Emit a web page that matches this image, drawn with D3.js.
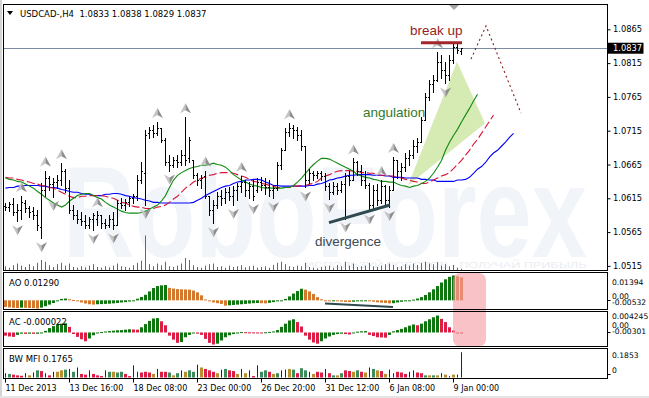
<!DOCTYPE html>
<html><head><meta charset="utf-8">
<script src="https://cdn.jsdelivr.net/npm/d3@7/dist/d3.min.js"></script>
<style>
html,body{margin:0;padding:0;background:#fff;}
svg{display:block;}
</style></head><body>
<svg id="chart" width="649" height="398"></svg>
<script>
// ---------------- DATA ----------------
const symbolTitle = "USDCAD-,H4  1.0833 1.0838 1.0829 1.0837";
const lastPrice = 1.0837;
const dateLabels = ["11 Dec 2013","13 Dec 16:00","18 Dec 08:00","23 Dec 00:00","26 Dec 20:00","31 Dec 12:00","6 Jan 08:00","9 Jan 00:00"];
const dateTickBars = [0,16,32,48,64,80,96,112];
const priceTicks = [1.0865,1.0815,1.0765,1.0715,1.0665,1.0615,1.0565,1.0515];

const openP = [1.0603,1.0602,1.0606,1.0594,1.0597,1.0608,1.0600,1.0596,1.0591,1.0573,
1.0627,1.0645,1.0636,1.0639,1.0642,1.0656,1.0630,1.0597,1.0591,1.0585,
1.0582,1.0576,1.0584,1.0585,1.0591,1.0579,1.0576,1.0585,1.0576,1.0608,
1.0605,1.0609,1.0615,1.0618,1.0642,1.0653,1.0711,1.0716,1.0711,1.0719,
1.0701,1.0668,1.0664,1.0671,1.0668,1.0679,1.0674,1.0671,1.0649,1.0642,
1.0648,1.0619,1.0597,1.0605,1.0619,1.0615,1.0624,1.0619,1.0627,1.0633,
1.0639,1.0627,1.0633,1.0627,1.0639,1.0634,1.0631,1.0627,1.0630,1.0664,
1.0686,1.0713,1.0719,1.0716,1.0708,1.0693,1.0642,1.0653,1.0649,1.0652,
1.0648,1.0633,1.0624,1.0633,1.0627,1.0636,1.0648,1.0642,1.0668,1.0656,
1.0642,1.0634,1.0605,1.0627,1.0612,1.0633,1.0612,1.0627,1.0671,1.0656,
1.0661,1.0674,1.0679,1.0693,1.0698,1.0731,1.0765,1.0784,1.0790,1.0817,
1.0805,1.0797,1.0820,1.0839,1.0833];
const highP = [1.0608,1.0609,1.0615,1.0606,1.0618,1.0612,1.0603,1.0602,1.0597,1.0637,
1.0656,1.0648,1.0645,1.0649,1.0667,1.0659,1.0642,1.0605,1.0597,1.0594,
1.0591,1.0588,1.0593,1.0596,1.0591,1.0585,1.0590,1.0594,1.0612,1.0616,
1.0614,1.0618,1.0622,1.0649,1.0668,1.0716,1.0720,1.0723,1.0728,1.0719,
1.0704,1.0679,1.0676,1.0679,1.0686,1.0735,1.0705,1.0671,1.0653,1.0649,
1.0656,1.0619,1.0612,1.0624,1.0627,1.0630,1.0631,1.0633,1.0637,1.0648,
1.0642,1.0639,1.0642,1.0645,1.0646,1.0645,1.0642,1.0634,1.0668,1.0690,
1.0719,1.0726,1.0723,1.0720,1.0716,1.0693,1.0659,1.0656,1.0656,1.0655,
1.0652,1.0637,1.0639,1.0637,1.0640,1.0653,1.0656,1.0674,1.0670,1.0664,
1.0656,1.0637,1.0634,1.0636,1.0642,1.0634,1.0633,1.0676,1.0671,1.0667,
1.0682,1.0686,1.0701,1.0704,1.0735,1.0771,1.0790,1.0797,1.0831,1.0827,
1.0817,1.0827,1.0845,1.0846,1.0838];
const lowP = [1.0597,1.0596,1.0590,1.0581,1.0585,1.0594,1.0588,1.0585,1.0568,1.0556,
1.0619,1.0627,1.0617,1.0630,1.0634,1.0624,1.0593,1.0585,1.0579,1.0576,
1.0571,1.0571,1.0568,1.0575,1.0571,1.0571,1.0572,1.0569,1.0575,1.0600,
1.0597,1.0603,1.0608,1.0612,1.0637,1.0605,1.0704,1.0705,1.0708,1.0698,
1.0664,1.0656,1.0661,1.0662,1.0664,1.0664,1.0668,1.0645,1.0634,1.0630,
1.0616,1.0590,1.0578,1.0600,1.0605,1.0608,1.0612,1.0605,1.0612,1.0624,
1.0619,1.0615,1.0612,1.0624,1.0627,1.0622,1.0618,1.0615,1.0627,1.0659,
1.0686,1.0707,1.0704,1.0701,1.0686,1.0631,1.0637,1.0642,1.0645,1.0642,
1.0627,1.0614,1.0622,1.0621,1.0625,1.0585,1.0634,1.0642,1.0649,1.0634,
1.0630,1.0597,1.0600,1.0605,1.0608,1.0605,1.0602,1.0627,1.0645,1.0642,
1.0656,1.0664,1.0674,1.0683,1.0698,1.0731,1.0760,1.0772,1.0789,1.0793,
1.0785,1.0790,1.0815,1.0830,1.0829];
const closeP = [1.0602,1.0606,1.0594,1.0597,1.0609,1.0600,1.0594,1.0591,1.0575,1.0627,
1.0645,1.0636,1.0639,1.0642,1.0656,1.0630,1.0597,1.0591,1.0585,1.0582,
1.0575,1.0584,1.0590,1.0591,1.0579,1.0576,1.0585,1.0575,1.0608,1.0605,
1.0609,1.0615,1.0618,1.0642,1.0656,1.0708,1.0716,1.0711,1.0719,1.0701,
1.0668,1.0664,1.0671,1.0668,1.0679,1.0671,1.0701,1.0649,1.0642,1.0645,
1.0619,1.0597,1.0605,1.0619,1.0615,1.0624,1.0619,1.0627,1.0633,1.0639,
1.0627,1.0633,1.0619,1.0639,1.0634,1.0631,1.0627,1.0630,1.0664,1.0686,
1.0713,1.0719,1.0716,1.0708,1.0693,1.0642,1.0653,1.0649,1.0652,1.0648,
1.0633,1.0624,1.0633,1.0627,1.0636,1.0648,1.0642,1.0668,1.0656,1.0642,
1.0634,1.0605,1.0627,1.0612,1.0633,1.0612,1.0627,1.0671,1.0656,1.0661,
1.0674,1.0679,1.0693,1.0698,1.0731,1.0765,1.0784,1.0790,1.0817,1.0805,
1.0797,1.0820,1.0839,1.0834,1.0837];

const volumes = [12,8,15,20,14,10,18,12,22,30,25,15,10,18,22,14,20,10,8,12,
9,14,18,10,8,12,9,14,20,12,10,8,15,22,28,100,18,12,20,15,
25,12,10,14,20,36,30,15,10,8,14,18,20,10,12,8,14,10,12,15,
9,12,14,8,10,12,8,16,22,25,18,12,10,14,12,22,10,8,6,10,
12,14,8,16,12,25,14,20,10,12,14,22,12,10,14,18,20,16,10,12,
18,14,20,16,22,25,20,18,24,14,18,12,16,8,5];

// Alligator (shifted forward: jaw 13, teeth 8, lips 5 bars)
const jaw = [1.0630,1.0631,1.0631,1.0633,1.0633,1.0634,1.0634,1.0634,1.0634,1.0633,
1.0633,1.0631,1.0631,1.0630,1.0628,1.0627,1.0625,1.0624,1.0624,1.0622,
1.0621,1.0621,1.0619,1.0619,1.0619,1.0621,1.0621,1.0622,1.0622,1.0621,
1.0619,1.0618,1.0616,1.0615,1.0614,1.0612,1.0611,1.0609,1.0609,1.0608,
1.0608,1.0608,1.0608,1.0608,1.0608,1.0608,1.0608,1.0609,1.0612,1.0615,
1.0619,1.0622,1.0625,1.0628,1.0631,1.0633,1.0634,1.0637,1.0639,1.0640,
1.0642,1.0642,1.0643,1.0643,1.0642,1.0639,1.0637,1.0634,1.0634,1.0633,
1.0633,1.0633,1.0633,1.0633,1.0633,1.0633,1.0634,1.0634,1.0636,1.0637,
1.0639,1.0642,1.0643,1.0645,1.0646,1.0648,1.0649,1.0649,1.0650,1.0650,
1.0650,1.0650,1.0649,1.0649,1.0649,1.0648,1.0648,1.0646,1.0646,1.0646,
1.0645,1.0645,1.0645,1.0645,1.0643,1.0643,1.0642,1.0642,1.0640,1.0640,
1.0640,1.0640,1.0640,1.0642,1.0642,1.0643,1.0646,1.0652,1.0658,1.0662,
1.0668,1.0676,1.0682,1.0686,1.0692,1.0698,1.0705,1.0711];
const teeth = [1.0646,1.0645,1.0645,1.0643,1.0642,1.0640,1.0639,1.0637,1.0636,1.0634,
1.0633,1.0631,1.0630,1.0627,1.0624,1.0621,1.0618,1.0616,1.0616,1.0618,
1.0618,1.0619,1.0619,1.0619,1.0619,1.0618,1.0616,1.0615,1.0612,1.0609,
1.0608,1.0605,1.0603,1.0602,1.0602,1.0600,1.0600,1.0600,1.0602,1.0603,
1.0605,1.0609,1.0614,1.0618,1.0624,1.0630,1.0634,1.0639,1.0642,1.0645,
1.0646,1.0649,1.0650,1.0652,1.0653,1.0653,1.0653,1.0652,1.0650,1.0648,
1.0646,1.0643,1.0640,1.0639,1.0637,1.0636,1.0634,1.0633,1.0631,1.0631,
1.0631,1.0631,1.0633,1.0633,1.0634,1.0634,1.0636,1.0637,1.0640,1.0645,
1.0648,1.0650,1.0653,1.0655,1.0656,1.0656,1.0656,1.0655,1.0655,1.0653,
1.0653,1.0652,1.0652,1.0650,1.0649,1.0649,1.0648,1.0648,1.0646,1.0645,
1.0643,1.0642,1.0640,1.0639,1.0637,1.0637,1.0639,1.0642,1.0645,1.0648,
1.0650,1.0653,1.0659,1.0665,1.0671,1.0679,1.0686,1.0695,1.0702,1.0711,
1.0720,1.0729,1.0738];
const lips = [1.0645,1.0643,1.0642,1.0640,1.0639,1.0636,1.0633,1.0630,1.0625,1.0621,
1.0616,1.0612,1.0608,1.0605,1.0602,1.0605,1.0611,1.0615,1.0619,1.0621,
1.0622,1.0622,1.0619,1.0616,1.0614,1.0609,1.0605,1.0602,1.0599,1.0596,
1.0594,1.0593,1.0593,1.0593,1.0594,1.0596,1.0599,1.0602,1.0605,1.0611,
1.0619,1.0631,1.0642,1.0649,1.0653,1.0656,1.0659,1.0661,1.0662,1.0664,
1.0664,1.0665,1.0667,1.0665,1.0664,1.0661,1.0656,1.0650,1.0646,1.0642,
1.0639,1.0636,1.0634,1.0633,1.0631,1.0630,1.0630,1.0630,1.0630,1.0630,
1.0631,1.0631,1.0634,1.0639,1.0645,1.0652,1.0659,1.0665,1.0670,1.0674,
1.0674,1.0673,1.0670,1.0667,1.0664,1.0661,1.0658,1.0655,1.0650,1.0648,
1.0646,1.0645,1.0643,1.0642,1.0640,1.0640,1.0639,1.0639,1.0636,1.0634,
1.0633,1.0631,1.0633,1.0634,1.0637,1.0640,1.0645,1.0652,1.0661,1.0671,
1.0686,1.0698,1.0708,1.0717,1.0728,1.0738,1.0748,1.0759,1.0769];

const fractalUp = [4,10,14,23,38,45,50,59,71,87,94,97,108];
const fractalDown = [3,9,12,22,27,35,41,52,57,62,67,75,81,85,91,96,110];

const aoValues = [-0.0037,-0.0040,-0.0042,-0.0043,-0.0041,-0.0042,-0.0043,-0.0044,-0.0046,-0.0041,
-0.0033,-0.0024,-0.0015,-0.0005,0.0008,0.0010,0.0006,0.0002,-0.0005,-0.0012,
-0.0018,-0.0022,-0.0024,-0.0022,-0.0021,-0.0020,-0.0019,-0.0017,-0.0015,-0.0012,
-0.0010,-0.0007,-0.0002,0.0009,0.0019,0.0031,0.0050,0.0069,0.0080,0.0084,
0.0086,0.0070,0.0066,0.0063,0.0062,0.0061,0.0060,0.0055,0.0045,0.0028,
0.0005,-0.0005,-0.0012,-0.0016,-0.0020,-0.0030,-0.0028,-0.0026,-0.0024,-0.0022,
-0.0020,-0.0018,-0.0016,-0.0015,-0.0016,-0.0017,-0.0014,-0.0010,-0.0006,-0.0002,
0.0008,0.0022,0.0038,0.0052,0.0065,0.0060,0.0050,0.0036,0.0018,0.0006,
-0.0002,-0.0004,-0.0003,-0.0005,-0.0007,-0.0009,-0.0010,-0.0008,-0.0006,-0.0005,
-0.0004,-0.0006,-0.0008,-0.0011,-0.0013,-0.0015,-0.0017,-0.0016,-0.0012,-0.0008,
-0.0004,-0.0001,0.0004,0.0010,0.0018,0.0030,0.0045,0.0062,0.0080,0.0100,
0.0118,0.0132,0.01394,0.0135,0.0129];
const aoRange = [-0.00532,0.01394];

const acValues = [-0.0008,-0.0010,-0.0011,-0.0006,-0.0003,-0.00035,-0.0003,-0.00034,-0.00032,-0.00025,
0.0004,0.0011,0.0016,0.0020,0.0022,0.0023,0.0014,-0.0004,-0.0011,-0.0017,
-0.0022,-0.0015,-0.0007,-0.0002,0.0001,0.00025,0.00035,0.00045,0.00055,0.0006,
0.0007,0.0008,0.00075,0.0007,0.0013,0.0021,0.0029,0.0035,0.0036,0.0028,
0.0018,-0.0008,-0.0018,-0.0026,-0.0024,-0.0012,-0.0006,-0.0002,-0.0003,-0.0006,
-0.0016,-0.0026,-0.00301,-0.0028,-0.0020,-0.0012,-0.0007,-0.0004,-0.0001,0.0001,
0.00006,0.00003,0.00002,0.00001,0.0,0.00005,0.00015,0.00025,0.0006,0.0014,
0.0022,0.0030,0.0033,0.0026,0.0015,-0.0008,-0.0018,-0.0025,-0.0028,-0.0022,
-0.0015,-0.0010,-0.0006,-0.0004,-0.0003,-0.0004,-0.0005,-0.0002,0.0002,0.0003,
0.00035,-0.0006,-0.0009,-0.0012,-0.00125,-0.0013,-0.0006,0.0003,0.0006,0.0009,
0.0013,0.0017,0.0020,0.0018,0.0022,0.0028,0.0033,0.0038,0.004245,0.0034,
0.0026,0.0013,0.0005,-0.00001,-0.000022];
const acRange = [-0.00301,0.004245];

const mfiValues = [0.03,0.025,0.02,0.015,0.012,0.03,0.015,0.035,0.05,0.045,
0.03,0.015,0.04,0.04,0.05,0.055,0.06,0.04,0.07,0.025,
0.02,0.05,0.025,0.015,0.01,0.05,0.04,0.04,0.035,0.04,
0.025,0.01,0.085,0.04,0.035,0.04,0.035,0.025,0.06,0.04,
0.04,0.035,0.015,0.03,0.05,0.04,0.05,0.04,0.09,0.07,
0.06,0.05,0.04,0.03,0.055,0.06,0.05,0.045,0.025,0.06,
0.03,0.05,0.01,0.085,0.04,0.05,0.04,0.025,0.03,0.05,
0.055,0.06,0.055,0.03,0.065,0.05,0.04,0.025,0.04,0.035,
0.06,0.03,0.015,0.015,0.03,0.05,0.045,0.04,0.05,0.04,
0.035,0.07,0.06,0.05,0.045,0.025,0.055,0.03,0.04,0.035,
0.025,0.04,0.05,0.035,0.03,0.015,0.015,0.015,0.015,0.03,
0.02,0.01,0.02,0.02,0.1765];
const mfiKinds = ["b","g","r","r","r","b","y","b","g","r",
"b","r","b","y","y","g","b","g","b","r",
"r","b","r","r","r","b","g","y","g","g",
"r","r","b","b","r","r","r","y","b","r",
"r","g","y","g","b","y","g","g","b","y",
"r","r","r","y","b","g","r","r","y","b",
"y","b","r","b","g","g","r","y","g","b",
"b","y","g","r","g","g","b","y","r","r",
"b","r","g","y","g","r","r","y","g","r",
"y","b","g","y","r","y","b","b","r","r",
"r","b","b","r","r","g","y","g","y","b",
"y","b","y","b","b"];
const mfiMax = 0.1853;
</script>
<script>
// ---------------- RENDER ----------------
const svg = d3.select("#chart");
const UI = '"DejaVu Sans", Verdana, sans-serif';
const ANN = '"Liberation Sans", Arial, sans-serif';
const L = 3.5, R = 607.5;
const P = {main:[4.5,270.5], ao:[272.5,309.5], ac:[311.5,346.5], mfi:[348.5,378.5]};

const x = d3.scaleLinear().domain([0,114]).range([5,461]);
const y = d3.scaleLinear().domain([1.0515,1.0865]).range([265.9,29.3]);
const yVol = d3.scaleLinear().domain([0,100]).range([270.5,235.5]);
const yAO = d3.scaleLinear().domain(aoRange).range([309.8,275.5]);
const yAC = d3.scaleLinear().domain(acRange).range([344.5,315.5]);
const yMFI = d3.scaleLinear().domain([0,mfiMax]).range([377.5,351]);

svg.append("rect").attr("width",649).attr("height",398).attr("fill","#fff");
svg.append("rect").attr("x",0).attr("y",0).attr("width",2).attr("height",398).attr("fill","#d4d4d4");
svg.append("rect").attr("x",0).attr("y",396).attr("width",649).attr("height",2).attr("fill","#e4e4e4");

const defs = svg.append("defs");
Object.entries(P).forEach(([k,[t,b]])=>{
  defs.append("clipPath").attr("id","clip-"+k).append("rect")
    .attr("x",L+0.5).attr("y",t+0.5).attr("width",R-L-1).attr("height",b-t-1);
});

// ---- main panel ----
const gm = svg.append("g").attr("clip-path","url(#clip-main)");
// watermark, squeezed horizontally with a transform so its box is exact
function squeezed(parent, txt, x0, yb, width, size, weight, fill){
  const t = parent.append("text").attr("font-family",ANN).attr("font-weight",weight)
    .attr("font-size",size).attr("fill",fill).text(txt);
  const w = t.node().getComputedTextLength();
  t.attr("transform",`translate(${x0},${yb}) scale(${width/w},1)`);
  return t;
}
squeezed(gm,"RoboForex",63,257,524,130,"bold","#f1f4f8");
squeezed(gm,"ИСПОЛЬЗУЙ РОБОТОВ - ПОЛУЧАЙ ПРИБЫЛЬ",305,268,282,8.5,"normal","#e9edf2");

// angulation triangle (bar index, price)
const angTri = [[100.75,1.0634],[113,1.0817],[120,1.0726]];
gm.append("path").attr("d", d3.line().x(d=>x(d[0])).y(d=>y(d[1]))(angTri)+"Z")
  .attr("fill","#d6eab3").attr("stroke","none");

// volumes
gm.selectAll("rect.vol").data(volumes).join("rect").attr("class","vol")
  .attr("x",(d,i)=>x(i)).attr("width",1).attr("y",d=>yVol(d)).attr("height",d=>yVol(0)-yVol(d))
  .attr("fill","#1f9a1f");

// current price line
gm.append("line").attr("x1",L).attr("x2",R).attr("y1",Math.round(y(lastPrice))+0.5).attr("y2",Math.round(y(lastPrice))+0.5)
  .attr("stroke","#7a8da0").attr("stroke-width",1);

// alligator
const ln = d3.line().x((d,j)=>x(j)+0.5).y(d=>y(d));
gm.append("path").attr("d",ln(jaw)).attr("fill","none").attr("stroke","#0000ff").attr("stroke-width",1.1);
gm.append("path").attr("d",ln(teeth)).attr("fill","none").attr("stroke","#d4143a").attr("stroke-width",1.1).attr("stroke-dasharray","8,3");
gm.append("path").attr("d",ln(lips)).attr("fill","none").attr("stroke","#118a11").attr("stroke-width",1.1);

// OHLC bars
const bars = gm.append("g").attr("fill","#000");
openP.forEach((o,i)=>{
  const xi = x(i);
  const yh = Math.round(y(highP[i])), yl = Math.round(y(lowP[i]));
  bars.append("rect").attr("x",xi).attr("y",yh).attr("width",1).attr("height",Math.max(1,yl-yh+1));
  bars.append("rect").attr("x",xi-1).attr("y",Math.round(y(o))).attr("width",1).attr("height",1);
  bars.append("rect").attr("x",xi+1).attr("y",Math.round(y(closeP[i]))).attr("width",1).attr("height",1);
});

// fractal arrows
function arrow(cx,cy,up){
  const s = up?1:-1;
  const g = gm.append("g");
  g.append("path").attr("d",`M${cx},${cy-5*s} L${cx-5.5},${cy+5*s} L${cx},${cy+2*s} Z`).attr("fill","#c4c4c4");
  g.append("path").attr("d",`M${cx},${cy-5*s} L${cx+5.5},${cy+5*s} L${cx},${cy+2*s} Z`).attr("fill","#8e8e8e");
}
fractalUp.forEach(i=>arrow(x(i)+0.5, y(highP[i])-9, true));
fractalDown.forEach(i=>arrow(x(i)+0.5, y(lowP[i])+9, false));

// annotations
const brkLine = [[104,1.0845],[114.25,1.0845]];
gm.append("line").attr("x1",x(brkLine[0][0])).attr("x2",x(brkLine[1][0])).attr("y1",y(brkLine[0][1])).attr("y2",y(brkLine[1][1]))
  .attr("stroke","#a3262b").attr("stroke-width",3);
gm.append("text").attr("x",x(101.25)).attr("y",y(1.0856)).attr("font-family",ANN).attr("font-size",13.5)
  .attr("fill","#9b1e22").text("break up");
const projection = [[116.5,1.0821],[120.25,1.0870],[129,1.0741]];
gm.append("path").attr("d",d3.line().x(d=>x(d[0])).y(d=>y(d[1]))(projection)).attr("fill","none")
  .attr("stroke","#8b1a1a").attr("stroke-width",1.1).attr("stroke-dasharray","2,3");
gm.append("text").attr("x",x(89.5)).attr("y",y(1.07348)).attr("font-family",ANN).attr("font-size",13.5)
  .attr("fill","#2f7a2a").text("angulation");
const divLine = [[81,1.0579],[96.25,1.0605]];
gm.append("line").attr("x1",x(divLine[0][0])).attr("x2",x(divLine[1][0])).attr("y1",y(divLine[0][1])).attr("y2",y(divLine[1][1]))
  .attr("stroke","#2f4a4f").attr("stroke-width",3);
gm.append("text").attr("x",x(77.5)).attr("y",y(1.0545)).attr("font-family",ANN).attr("font-size",13.5)
  .attr("fill","#3c4a57").text("divergence");
// chart shift marker
svg.append("path").attr("d",`M${x(112.25)-5},5 L${x(112.25)+5},5 L${x(112.25)},10 Z`).attr("fill","#a5a5a5");

// header
svg.append("path").attr("d","M7,11 L13,11 L10,15 Z").attr("fill","#000");
svg.append("text").attr("x",20).attr("y",17).attr("font-family",UI).attr("font-size",8.5).attr("fill","#000")
  .style("white-space","pre").text(symbolTitle);

// ---- AO ----
const gao = svg.append("g").attr("clip-path","url(#clip-ao)");
gao.selectAll("rect").data(aoValues).join("rect")
  .attr("x",(d,i)=>x(i)-1).attr("width",3)
  .attr("y",d=>Math.min(yAO(d),yAO(0))).attr("height",d=>Math.max(1,Math.abs(yAO(d)-yAO(0))))
  .attr("fill",(d,i)=> (i>0 && d>aoValues[i-1]) ? "#0e760e" : "#d4782e");
const aoDiv = [[80,-0.0018],[97,-0.0038]];
gao.append("line").attr("x1",x(aoDiv[0][0])).attr("x2",x(aoDiv[1][0])).attr("y1",yAO(aoDiv[0][1])).attr("y2",yAO(aoDiv[1][1]))
  .attr("stroke","#2f4a4f").attr("stroke-width",2);
svg.append("text").attr("x",9).attr("y",286).attr("font-family",UI).attr("font-size",8.5).text("AO "+aoValues[114].toFixed(5));

// ---- AC ----
const gac = svg.append("g").attr("clip-path","url(#clip-ac)");
gac.selectAll("rect").data(acValues).join("rect")
  .attr("x",(d,i)=>x(i)-1).attr("width",3)
  .attr("y",d=>Math.min(yAC(d),yAC(0))).attr("height",d=>Math.max(1,Math.abs(yAC(d)-yAC(0))))
  .attr("fill",(d,i)=> (i>0 && d>acValues[i-1]) ? "#0e760e" : "#dc1e46");
svg.append("text").attr("x",9).attr("y",325).attr("font-family",UI).attr("font-size",8.5).text("AC "+acValues[114].toFixed(6));

// pink highlight
svg.append("rect").attr("x",x(112)).attr("y",P.ao[0]+0.5).attr("width",x(120.25)-x(112)).attr("height",P.ac[1]-P.ao[0]-0.5)
  .attr("rx",7).attr("fill","#f39aa2").attr("opacity",0.6);

// ---- BW MFI ----
const mfiColor = {g:"#3d8c5e", y:"#b88f2c", r:"#dc1e46", b:"#16168f"};
const gmf = svg.append("g").attr("clip-path","url(#clip-mfi)");
gmf.selectAll("rect").data(mfiValues).join("rect")
  .attr("x",(d,i)=> mfiKinds[i]==="b" ? x(i) : x(i)-1)
  .attr("width",(d,i)=> mfiKinds[i]==="b" ? 1 : 3)
  .attr("y",d=>yMFI(d)).attr("height",d=>yMFI(0)-yMFI(d))
  .attr("fill",(d,i)=>mfiColor[mfiKinds[i]]);
svg.append("text").attr("x",9).attr("y",362).attr("font-family",UI).attr("font-size",8.5).text("BW MFI "+mfiValues[114].toFixed(4));

// panel frames
Object.values(P).forEach(([t,b])=>{
  svg.append("rect").attr("x",L).attr("y",t).attr("width",R-L).attr("height",b-t)
    .attr("fill","none").attr("stroke","#000").attr("stroke-width",1);
});

// price axis
const pa = svg.append("g").attr("transform",`translate(${R},0)`)
  .call(d3.axisRight(y).tickValues(priceTicks).tickSize(3).tickFormat(d3.format(".4f")));
pa.select(".domain").remove();
pa.selectAll("text").attr("font-family",UI).attr("font-size",8.3).attr("fill","#000").attr("x",5.5);

// current price box
const cy = y(lastPrice);
svg.append("rect").attr("x",R).attr("y",cy-5.5).attr("width",36).attr("height",11).attr("fill","#000");
svg.append("text").attr("x",R+5.5).attr("y",cy+3).attr("font-family",UI).attr("font-size",8.3).attr("fill","#fff").text(lastPrice.toFixed(4));

// indicator scale labels
const subLabels = [
  ["0.01394",284.5],["0.00",298.5],["-0.00532",304.5],
  ["0.004245",318.5],["0.00",328],["-0.00301",334],
  ["0.1853",358],["0",373]
];
subLabels.forEach(([t,yy])=>{
  svg.append("text").attr("x",R+4.5).attr("y",yy).attr("font-family",UI).attr("font-size",7.6).attr("fill","#000").text(t);
});
[yAO(0),yAC(0),yMFI(0)-4].forEach(v=>{
  svg.append("line").attr("x1",R).attr("x2",R+3).attr("y1",Math.round(v)+0.5).attr("y2",Math.round(v)+0.5).attr("stroke","#000");
});

// time axis
const ta = svg.append("g").attr("transform",`translate(0,${P.mfi[1]})`)
  .call(d3.axisBottom(x).tickValues(dateTickBars).tickSize(4).tickFormat((d,k)=>dateLabels[k]));
ta.select(".domain").remove();
ta.selectAll("text").attr("font-family",UI).attr("font-size",8).attr("fill","#000").attr("text-anchor","start").attr("x",0).attr("y",7);
</script>
</body></html>
